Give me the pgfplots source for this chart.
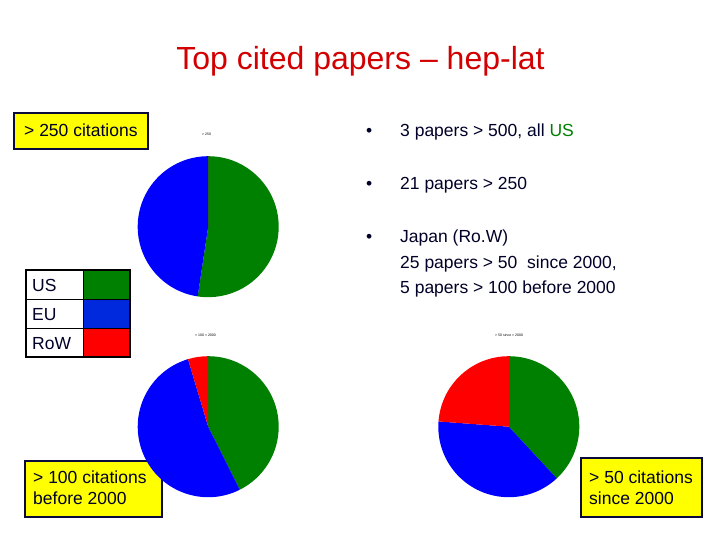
\documentclass[border=0pt]{standalone}
\usepackage{pgfplots}
\pgfplotsset{compat=1.18}
\usepackage{fontspec}
\setmainfont{Liberation Sans}
\definecolor{pgreen}{RGB}{0,128,0}
\definecolor{pblue}{RGB}{0,0,255}
\definecolor{pred}{RGB}{255,0,0}
\definecolor{lblue}{RGB}{0,40,220}
\definecolor{navy}{RGB}{10,10,60}
\definecolor{txt}{RGB}{0,0,40}
\definecolor{ttl}{RGB}{210,0,0}
\definecolor{byellow}{RGB}{255,255,0}
% pie: centre x, centre y (pixels from top), US, EU, RoW
\newcommand\drawpie[5]{%
  \fill[pgreen] (axis cs:#1,#2) -- ++(90:70.5pt) arc[start angle=90, end angle={90-360/(#3+#4+#5)*(#3)}, radius=70.5pt] -- cycle;
  \fill[pblue] (axis cs:#1,#2) -- ++({90-360/(#3+#4+#5)*(#3)}:70.5pt) arc[start angle={90-360/(#3+#4+#5)*(#3)}, end angle={90-360/(#3+#4+#5)*(#3+#4)}, radius=70.5pt] -- cycle;
  \fill[pred] (axis cs:#1,#2) -- ++({90-360/(#3+#4+#5)*(#3+#4)}:70.5pt) arc[start angle={90-360/(#3+#4+#5)*(#3+#4)}, end angle=-270, radius=70.5pt] -- cycle;
}
\begin{document}
\begin{tikzpicture}
\begin{axis}[x=1pt, y=1pt, xmin=0, xmax=720, ymin=0, ymax=540, y dir=reverse,
  hide axis, clip=false, scale only axis]
\fill[white] (axis cs:0,0) rectangle (axis cs:720,540);
% title
\node[anchor=base, inner sep=0pt, text=ttl, font=\fontsize{32}{36}\selectfont] at (axis cs:360.5,70) {Top cited papers -- hep-lat};
% boxes (drawn under the pies)
\draw[navy, line width=2.5pt, fill=byellow] (axis cs:14,113) rectangle (axis cs:148,149);
\node[anchor=base west, inner sep=0pt, text=txt, font=\fontsize{17.5}{21}\selectfont] at (axis cs:24,137) {> 250 citations};
\draw[navy, line width=2.5pt, fill=byellow] (axis cs:25,461) rectangle (axis cs:162,517);
\node[anchor=base west, inner sep=0pt, text=txt, font=\fontsize{17.5}{21}\selectfont] at (axis cs:33,483) {> 100 citations};
\node[anchor=base west, inner sep=0pt, text=txt, font=\fontsize{17.5}{21}\selectfont] at (axis cs:33,504) {before 2000};
\draw[navy, line width=2.5pt, fill=byellow] (axis cs:581,458) rectangle (axis cs:702,517);
\node[anchor=base west, inner sep=0pt, text=txt, font=\fontsize{17.5}{21}\selectfont] at (axis cs:589,483) {> 50 citations};
\node[anchor=base west, inner sep=0pt, text=txt, font=\fontsize{17.5}{21}\selectfont] at (axis cs:589,504) {since 2000};
% pies
\drawpie{208.2}{226.7}{11}{10}{0}
\drawpie{208.2}{426.7}{46}{57}{5}
\drawpie{508.8}{426.7}{40}{40}{25}
% tiny labels
\node[anchor=base west, inner sep=0pt, font=\fontsize{3.5}{4}\selectfont] at (axis cs:202,136) {> 250};
\node[anchor=base west, inner sep=0pt, font=\fontsize{3.5}{4}\selectfont] at (axis cs:195,336) {> 100 < 2000};
\node[anchor=base west, inner sep=0pt, font=\fontsize{3.5}{4}\selectfont] at (axis cs:495,336) {> 50 since > 2000};
% legend table
\fill[pgreen] (axis cs:83,270) rectangle (axis cs:130,299);
\fill[lblue] (axis cs:83,299) rectangle (axis cs:130,328);
\fill[pred] (axis cs:83,328) rectangle (axis cs:130,357);
\draw[black, line width=1.2pt] (axis cs:26,270) rectangle (axis cs:130,357);
\draw[black, line width=1pt] (axis cs:83,270) -- (axis cs:83,357);
\draw[black, line width=1pt] (axis cs:26,299) -- (axis cs:130,299);
\draw[black, line width=1pt] (axis cs:26,328) -- (axis cs:130,328);
\node[anchor=base west, inner sep=0pt, text=txt, font=\fontsize{17.5}{21}\selectfont] at (axis cs:32,291) {US};
\node[anchor=base west, inner sep=0pt, text=txt, font=\fontsize{17.5}{21}\selectfont] at (axis cs:32,320) {EU};
\node[anchor=base west, inner sep=0pt, text=txt, font=\fontsize{17.5}{21}\selectfont] at (axis cs:32,349) {RoW};
% bullets
\node[anchor=base west, inner sep=0pt, text=txt, font=\fontsize{17.5}{21}\selectfont] at (axis cs:366,137) {•};
\node[anchor=base west, inner sep=0pt, text=txt, font=\fontsize{17.5}{21}\selectfont] at (axis cs:400,137) {3 papers > 500, all \textcolor{pgreen}{US}};
\node[anchor=base west, inner sep=0pt, text=txt, font=\fontsize{17.5}{21}\selectfont] at (axis cs:366,190) {•};
\node[anchor=base west, inner sep=0pt, text=txt, font=\fontsize{17.5}{21}\selectfont] at (axis cs:400,190) {21 papers > 250};
\node[anchor=base west, inner sep=0pt, text=txt, font=\fontsize{17.5}{21}\selectfont] at (axis cs:366,242) {•};
\node[anchor=base west, inner sep=0pt, text=txt, font=\fontsize{17.5}{21}\selectfont] at (axis cs:400,242) {Japan (Ro.W)};
\node[anchor=base west, inner sep=0pt, text=txt, font=\fontsize{17.5}{21}\selectfont] at (axis cs:400,268) {25 papers > 50\ \ since 2000,};
\node[anchor=base west, inner sep=0pt, text=txt, font=\fontsize{17.5}{21}\selectfont] at (axis cs:400,293) {5 papers > 100 before 2000};
\end{axis}
\end{tikzpicture}
\end{document}
